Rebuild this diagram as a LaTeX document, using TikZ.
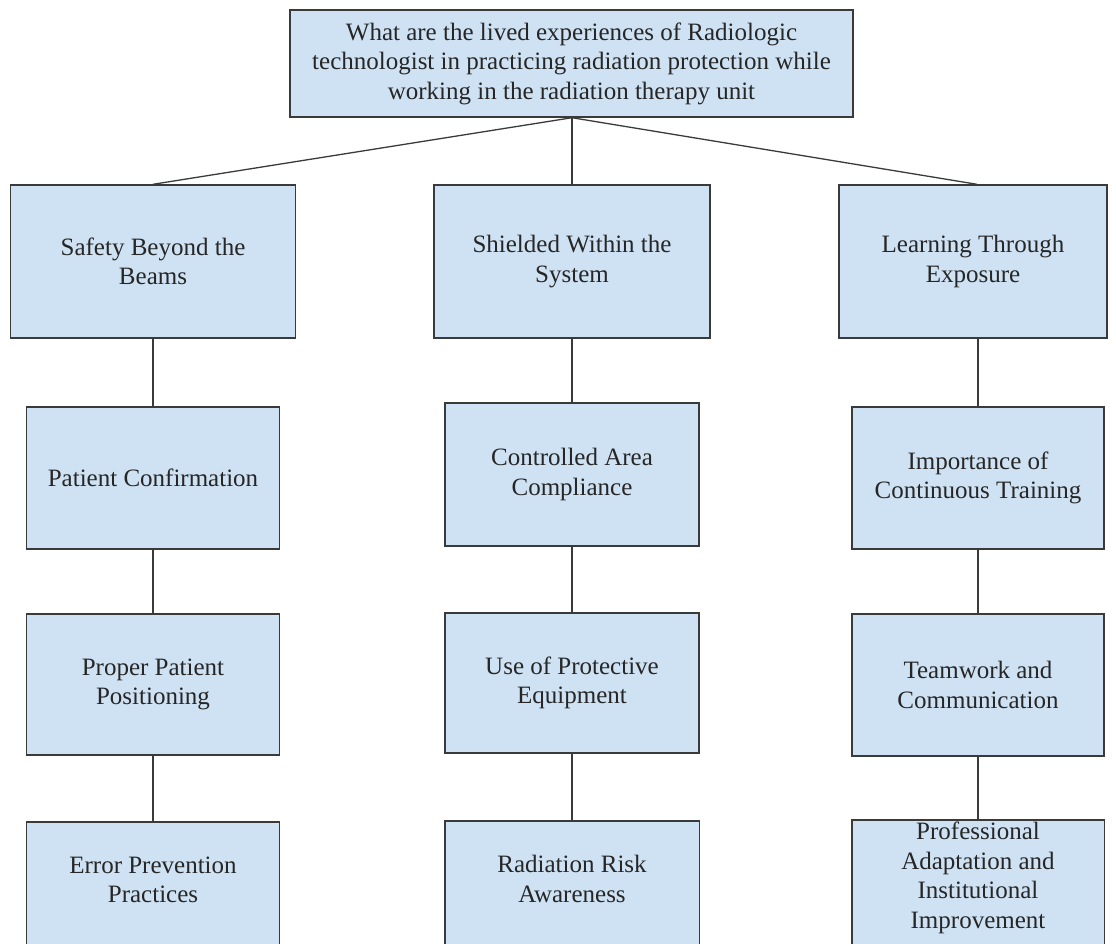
\documentclass[tikz,border=0pt]{standalone}
\usepackage{fontspec}
\setmainfont{Liberation Serif}
\usetikzlibrary{backgrounds}
\definecolor{boxfill}{HTML}{CFE2F3}
\definecolor{linecol}{HTML}{3A3A3A}
\begin{document}
\begin{tikzpicture}[x=1pt,y=-1pt,
  every node/.style={font=\fontsize{25}{29.5}\selectfont, text=black!85},
  box/.style={draw=linecol, fill=boxfill, line width=1.4pt, align=center, inner sep=0pt},
  openbox/.style={draw=none, fill=none, align=center, inner sep=0pt},
  conn/.style={draw=linecol, line width=1.3pt}]
\useasboundingbox (0,0) rectangle (1116,943);
\clip (0,0) rectangle (1116,943);
% top
\node[box, minimum width=563pt, minimum height=107pt] (q) at (571.5,63.5)
  {What are the lived experiences of Radiologic\\technologist in practicing radiation protection while\\working in the radiation therapy unit};
\coordinate (qs) at ([xshift=0.5pt]q.south);
% level 1
\node[box, minimum width=285pt, minimum height=153pt] (a1) at (153,261.5) {Safety Beyond the\\Beams};
\node[box, minimum width=276pt, minimum height=153pt] (b1) at (572,261.5) {Shielded Within the\\System};
\node[box, minimum width=268pt, minimum height=153pt] (c1) at (973,261.5) {Learning Through\\Exposure};
% level 2
\node[box, minimum width=253pt, minimum height=142pt] (a2) at (153,478) {Patient Confirmation};
\node[box, minimum width=254pt, minimum height=143pt] (b2) at (572,474.5) {Controlled Area\\Compliance};
\node[box, minimum width=252pt, minimum height=142pt] (c2) at (978,478) {Importance of\\Continuous Training};
% level 3
\node[box, minimum width=253pt, minimum height=141pt] (a3) at (153,684.5) {Proper Patient\\Positioning};
\node[box, minimum width=254pt, minimum height=140pt] (b3) at (572,683) {Use of Protective\\Equipment};
\node[box, minimum width=252pt, minimum height=142pt] (c3) at (978,685) {Teamwork and\\Communication};
% level 4 (cut off by the page edge)
\node[openbox, minimum width=253pt, minimum height=116pt] (a4) at (153,880) {Error Prevention\\Practices};
\node[openbox, minimum width=254pt, minimum height=116pt] (b4) at (572,879) {Radiation Risk\\Awareness};
\node[openbox, minimum width=252pt, minimum height=116pt] (c4) at (978,878) {Professional\\Adaptation and\\Institutional\\Improvement};
\begin{scope}[on background layer]
  \foreach \n in {a4,b4,c4}{
    \draw[draw=linecol, fill=boxfill, line width=1.4pt] (\n.north west) rectangle ([yshift=-60pt]\n.south east);
  }
\end{scope}
% connectors
\draw[conn] (qs) -- (a1.north);
\draw[conn] (qs) -- ([xshift=4pt]c1.north);
\draw[conn] (qs) -- (b1.north);
\draw[conn] (a1.south) -- (a2.north);
\draw[conn] (a2.south) -- (a3.north);
\draw[conn] (a3.south) -- (a4.north);
\draw[conn] (b1.south) -- (b2.north);
\draw[conn] (b2.south) -- (b3.north);
\draw[conn] (b3.south) -- (b4.north);
\draw[conn] ([xshift=5pt]c1.south) -- (c2.north);
\draw[conn] (c2.south) -- (c3.north);
\draw[conn] (c3.south) -- (c4.north);
\end{tikzpicture}
\end{document}
